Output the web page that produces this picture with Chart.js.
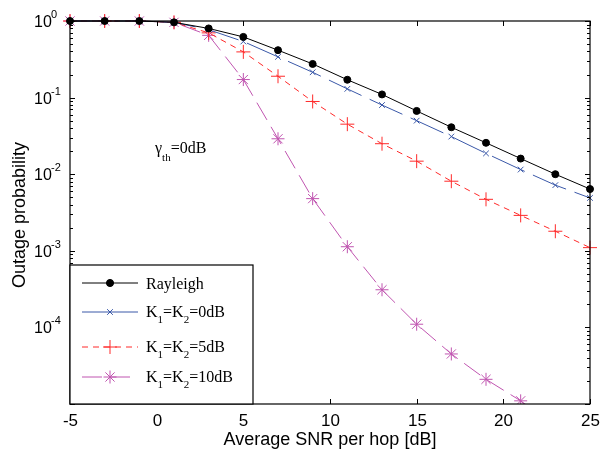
<!DOCTYPE html>
<html>
<head>
  <title>Outage probability vs SNR</title>
  <script src="https://cdn.jsdelivr.net/npm/chart.js@4.4.1/dist/chart.umd.min.js"></script>
  <style>
    body { margin: 0; background: #fff; }
    .chart-container { position: relative; width: 600px; height: 454px; }
  </style>
</head>
<body>
  <div class="chart-container"><canvas id="outage-chart"></canvas></div>
  <script>
    // SNR per hop (dB)
    const snr = [-5, -3, -1, 1, 3, 5, 7, 9, 11, 13, 15, 17, 19, 21, 23, 25];
    // outage probability
    const rayleigh = [1, 1, 1, 0.96, 0.80, 0.62, 0.416, 0.275, 0.171, 0.11, 0.067, 0.041, 0.0257, 0.016, 0.0100, 0.0064];
    const k0dB = [1, 1, 1, 0.96, 0.77, 0.54, 0.34, 0.214, 0.13, 0.080, 0.050, 0.031, 0.0187, 0.0115, 0.0072, 0.0049];
    const k5dB = [1, 1, 1, 0.96, 0.70, 0.395, 0.19, 0.089, 0.045, 0.025, 0.0148, 0.0081, 0.0047, 0.0029, 0.0018, 0.0011];
    const k10dB = [1, 1, 1, 0.96, 0.65, 0.172, 0.029, 0.0048, 0.00113, 0.00031, 0.00011, 0.000045, 0.000021, 0.000011, 0.0000052, 0.0000025];
    const xTicks = [-5, 0, 5, 10, 15, 20, 25];
    const yDecades = [0, -1, -2, -3, -4];

    const series = [
      { name: 'Rayleigh', k: null, values: rayleigh, color: '#000000', dash: [], legendDash: [], marker: 'circle', radius: 3.5, filled: true },
      { name: 'K0', k: '0', values: k0dB, color: '#3a58a8', dash: [36, 9], legendDash: [], marker: 'crossRot', radius: 4, filled: false },
      { name: 'K5', k: '5', values: k5dB, color: '#ff2a2a', dash: [6, 5], legendDash: [6, 5], marker: 'cross', radius: 7, filled: false },
      { name: 'K10', k: '10', values: k10dB, color: '#c055b0', dash: [20, 8], legendDash: [20, 8], marker: 'star', radius: 6.5, filled: false }
    ];

    function drawK(ctx, x, y, k) {
      // K_1=K_2=..dB with subscripts
      const big = '16px "Liberation Serif", "Times New Roman", serif';
      const small = '11px "Liberation Serif", "Times New Roman", serif';
      const parts = [['K', big, 0], ['1', small, 6], ['=K', big, 0], ['2', small, 6], ['=' + k + 'dB', big, 0]];
      ctx.textAlign = 'left';
      ctx.textBaseline = 'alphabetic';
      parts.forEach(p => {
        ctx.font = p[1];
        ctx.fillText(p[0], x, y + p[2]);
        x += ctx.measureText(p[0]).width;
      });
    }

    const frame = {
      id: 'frame',
      afterDraw(chart) {
        const ctx = chart.ctx;
        const a = chart.chartArea;
        const xs = chart.scales.x, ys = chart.scales.y;
        ctx.save();
        ctx.strokeStyle = '#000';
        ctx.fillStyle = '#000';
        ctx.lineWidth = 1.2;
        ctx.setLineDash([]);
        ctx.strokeRect(a.left, a.top, a.right - a.left, a.bottom - a.top);

        // x ticks (inside, bottom and top) + labels
        ctx.lineWidth = 1;
        ctx.font = '17px "Liberation Sans", Arial, sans-serif';
        ctx.textAlign = 'center';
        ctx.textBaseline = 'alphabetic';
        xTicks.forEach(v => {
          const px = Math.round(xs.getPixelForValue(v)) + 0.5;
          ctx.beginPath();
          ctx.moveTo(px, a.bottom); ctx.lineTo(px, a.bottom - 5);
          ctx.moveTo(px, a.top); ctx.lineTo(px, a.top + 5);
          ctx.stroke();
          ctx.fillText(String(v), px, 426);
        });

        // y ticks: decades and minor ticks on left and right
        for (let d = -5; d <= 0; d++) {
          for (let m = 1; m <= 9; m++) {
            const v = m * Math.pow(10, d);
            if (v > 1.0000001 || v < 0.99e-5) continue;
            const py = Math.round(ys.getPixelForValue(v)) + 0.5;
            const len = m === 1 ? 5 : 3;
            ctx.beginPath();
            ctx.moveTo(a.left, py); ctx.lineTo(a.left + len, py);
            ctx.moveTo(a.right, py); ctx.lineTo(a.right - len, py);
            ctx.stroke();
          }
        }
        yDecades.forEach(e => {
          const py = ys.getPixelForValue(Math.pow(10, e));
          ctx.textAlign = 'left';
          ctx.font = '16px "Liberation Sans", Arial, sans-serif';
          ctx.fillText('10', 34, py + 6);
          ctx.font = '11px "Liberation Sans", Arial, sans-serif';
          ctx.fillText(e === 0 ? '0' : '-' + (-e), 51, py - 3);
        });

        // axis titles
        ctx.font = '18px "Liberation Sans", Arial, sans-serif';
        ctx.textAlign = 'center';
        ctx.fillText('Average SNR per hop [dB]', (a.left + a.right) / 2, 445);
        ctx.save();
        ctx.translate(25, 215);
        ctx.rotate(-Math.PI / 2);
        ctx.fillText('Outage probability', 0, 0);
        ctx.restore();

        // annotation
        ctx.textAlign = 'left';
        ctx.font = '16px "Liberation Serif", "Times New Roman", serif';
        ctx.fillText('\u03b3', 155, 153);
        let ax = 155 + ctx.measureText('\u03b3').width;
        ctx.font = '11px "Liberation Serif", "Times New Roman", serif';
        ctx.fillText('th', ax, 161);
        ax += ctx.measureText('th').width;
        ctx.font = '16px "Liberation Serif", "Times New Roman", serif';
        ctx.fillText('=0dB', ax, 153);

        // legend box
        const lx = a.left, ly = 265, lw = 183, lh = a.bottom - 265;
        ctx.fillStyle = '#fff';
        ctx.fillRect(lx, ly, lw, lh);
        ctx.strokeStyle = '#000';
        ctx.lineWidth = 1.2;
        ctx.strokeRect(lx, ly, lw, lh);
        const rows = [283, 312, 347, 377];
        series.forEach((s, i) => {
          const ry = rows[i];
          ctx.strokeStyle = s.color;
          ctx.fillStyle = s.color;
          ctx.lineWidth = 1;
          ctx.setLineDash(s.legendDash);
          ctx.beginPath();
          ctx.moveTo(82, ry); ctx.lineTo(138, ry);
          ctx.stroke();
          ctx.setLineDash([]);
          Chart.helpers.drawPoint(ctx, { pointStyle: s.marker, radius: s.radius, borderWidth: 1 }, 110, ry);
          if (s.filled) { ctx.beginPath(); ctx.arc(110, ry, s.radius, 0, Math.PI * 2); ctx.fill(); }
          ctx.fillStyle = '#000';
          if (s.k === null) {
            ctx.font = '16px "Liberation Serif", "Times New Roman", serif';
            ctx.fillText('Rayleigh', 146, ry + 5.5);
          } else {
            drawK(ctx, 146, ry + 5, s.k);
          }
        });
        ctx.restore();
      }
    };

    new Chart(document.getElementById('outage-chart'), {
      type: 'line',
      data: {
        datasets: series.map(s => ({
          label: s.name,
          data: snr.map((x, i) => ({ x: x, y: s.values[i] })),
          borderColor: s.color,
          backgroundColor: s.filled ? s.color : 'rgba(0,0,0,0)',
          borderWidth: 1,
          borderDash: s.dash,
          pointStyle: s.marker,
          pointRadius: s.radius,
          pointBorderWidth: 1,
          pointBorderColor: s.color,
          pointBackgroundColor: s.filled ? s.color : 'rgba(0,0,0,0)',
          tension: 0,
          fill: false,
          clip: { left: 8, right: 8, top: 8, bottom: 0 }
        }))
      },
      options: {
        responsive: true,
        maintainAspectRatio: false,
        animation: false,
        events: [],
        layout: { padding: { top: 21, right: 10, left: 0, bottom: 0 } },
        plugins: { legend: { display: false }, tooltip: { enabled: false } },
        scales: {
          x: {
            type: 'linear', min: -5, max: 25,
            grid: { display: false }, border: { display: false },
            ticks: { display: false },
            afterFit: s => { s.height = 50; }
          },
          y: {
            type: 'logarithmic', min: 1e-5, max: 1,
            grid: { display: false }, border: { display: false },
            ticks: { display: false },
            afterFit: s => { s.width = 70; }
          }
        }
      },
      plugins: [frame]
    });
  </script>
</body>
</html>
